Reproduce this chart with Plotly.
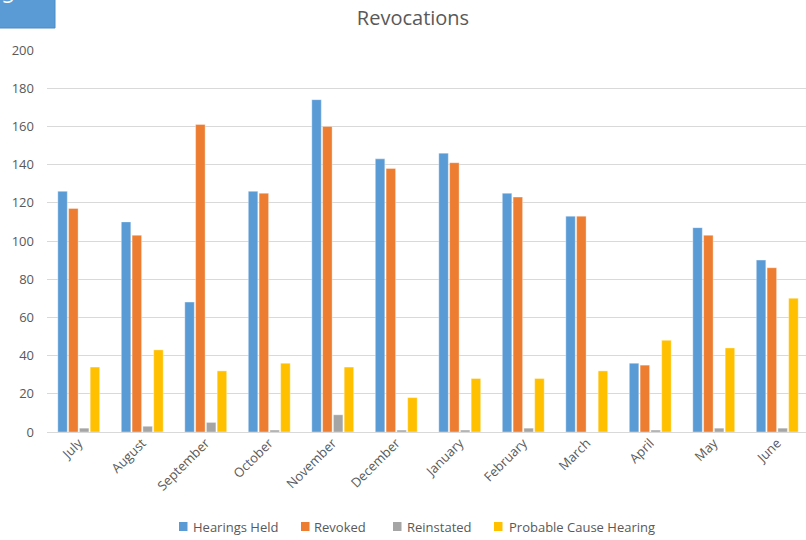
import plotly.graph_objects as go

months = ["July", "August", "September", "October", "November", "December",
          "January", "February", "March", "April", "May", "June"]
hearings_held = [126, 110, 68, 126, 174, 143, 146, 125, 113, 36, 107, 90]
revoked = [117, 103, 161, 125, 160, 138, 141, 123, 113, 35, 103, 86]
reinstated = [2, 3, 5, 1, 9, 1, 1, 2, 0, 1, 2, 2]
probable_cause = [34, 43, 32, 36, 34, 18, 28, 28, 32, 48, 44, 70]
y_ticks = [0, 20, 40, 60, 80, 100, 120, 140, 160, 180, 200]

series_names = ["Hearings Held", "Revoked", "Reinstated", "Probable Cause Hearing"]
series_values = [hearings_held, revoked, reinstated, probable_cause]
series_colors = ["#5B9BD5", "#ED7D31", "#A5A5A5", "#FFC000"]

W, H = 806, 540
ML, MR, MT, MB = 47, 0, 50, 108
PW, PH = W - ML - MR, H - MT - MB
FONT = "'Open Sans', Lato, sans-serif"
TXT = "#595959"


def px_x(x):
    """Page pixel column -> paper x."""
    return (x - ML) / PW


def px_y(y):
    """Page pixel row -> paper y."""
    return (H - MB - y) / PH


fig = go.Figure()
for name, vals, color in zip(series_names, series_values, series_colors):
    fig.add_trace(go.Bar(
        x=months, y=vals, name=name, showlegend=False,
        marker=dict(color=color, line=dict(color="rgba(255,255,255,0.6)", width=0.6)),
    ))

# the last group sits right at the page edge
fig.update_layout(
    width=W, height=H,
    margin=dict(l=ML, r=MR, t=MT, b=MB),
    paper_bgcolor="white", plot_bgcolor="white",
    barmode="group", bargap=0.32, bargroupgap=0.12,
    font=dict(family=FONT, color=TXT, size=13),
    title=dict(text="Revocations", x=413 / W, xanchor="center", xref="container",
               y=1 - 18 / H, yanchor="middle", yref="container",
               font=dict(size=20, color=TXT, family=FONT)),
    xaxis=dict(range=[-0.5, -0.5 + PW / 63.5], tickangle=-45, showgrid=False,
               showline=False, ticks="", tickfont=dict(size=13, color=TXT)),
    yaxis=dict(range=[0, 200], tickvals=y_ticks, showgrid=True, gridcolor="#D9D9D9",
               gridwidth=1, zeroline=True, zerolinecolor="#D9D9D9", zerolinewidth=1,
               ticks="", ticklabelstandoff=12, tickfont=dict(size=13, color=TXT)),
)

# legend row: square swatch followed by its label
swatch_left = [179, 301, 393, 494]
label_left = [191, 312, 405, 507]
legend_y = 526.5
for name, color, sx, lx in zip(series_names, series_colors, swatch_left, label_left):
    fig.add_shape(type="rect", xref="paper", yref="paper",
                  x0=px_x(sx), x1=px_x(sx + 8.5),
                  y0=px_y(legend_y + 4.5), y1=px_y(legend_y - 4.5),
                  fillcolor=color, line=dict(width=0))
    fig.add_annotation(text=name, xref="paper", yref="paper",
                       x=px_x(lx), y=px_y(legend_y), xanchor="left", yanchor="middle",
                       showarrow=False, font=dict(size=13, color=TXT, family=FONT))

# slide-number tab in the top-left corner
fig.add_shape(type="rect", xref="paper", yref="paper",
              x0=px_x(-1), x1=px_x(55), y0=px_y(28), y1=px_y(-2),
              fillcolor="#5B9BD5", line=dict(color="#4A89C4", width=1), layer="above")
fig.add_annotation(text="5", xref="paper", yref="paper",
                   x=px_x(0), y=px_y(-6), xanchor="left", yanchor="middle",
                   showarrow=False, font=dict(color="white", size=22, family=FONT))

fig.write_html("out.html")
